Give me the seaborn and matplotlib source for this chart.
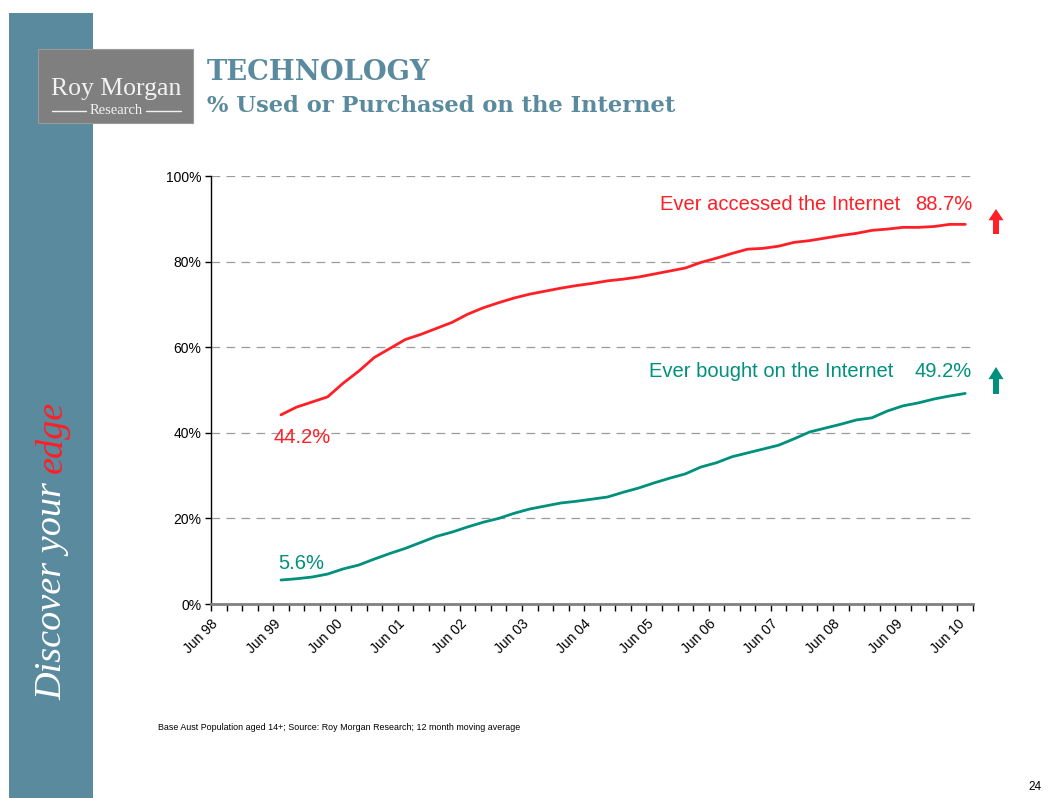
import numpy as np
import pandas as pd
import matplotlib
matplotlib.use("Agg")
import matplotlib.pyplot as plt
import seaborn as sns
from matplotlib.patches import Rectangle, FancyArrow

# ---- data: 12 month moving average, % of Australians 14+ (quarterly points) ----
year_labels = ["Jun 98", "Jun 99", "Jun 00", "Jun 01", "Jun 02", "Jun 03", "Jun 04",
               "Jun 05", "Jun 06", "Jun 07", "Jun 08", "Jun 09", "Jun 10"]
first_quarter = 4          # first reading sits in the 5th quarter slot after Jun 98
ever_accessed = [44.2, 46.0, 47.2, 48.4, 51.6, 54.4, 57.6, 59.7, 61.8, 63.0,
                 64.4, 65.8, 67.7, 69.2, 70.4, 71.5, 72.4, 73.1, 73.8, 74.4,
                 74.9, 75.5, 75.9, 76.4, 77.1, 77.8, 78.5, 79.8, 80.8, 81.9,
                 82.9, 83.1, 83.6, 84.5, 84.9, 85.5, 86.1, 86.6, 87.3, 87.6,
                 88.0, 88.0, 88.2, 88.7, 88.7]
ever_bought = [5.6, 5.9, 6.3, 7.0, 8.2, 9.1, 10.5, 11.8, 13.0, 14.4,
               15.8, 16.8, 18.0, 19.1, 20.0, 21.2, 22.2, 22.9, 23.6, 24.0,
               24.5, 25.0, 26.1, 27.1, 28.3, 29.4, 30.4, 32.0, 33.0, 34.4,
               35.3, 36.2, 37.1, 38.6, 40.2, 41.1, 42.0, 43.0, 43.5, 45.1,
               46.3, 47.0, 47.9, 48.6, 49.2]
series_names = ["Ever accessed the Internet", "Ever bought on the Internet"]
y_ticks = [0, 20, 40, 60, 80, 100]

RED = "#FF1F26"
GREEN = "#00907C"
TEAL = "#5A8A9E"

n = len(ever_accessed)
quarter_pos = np.arange(first_quarter, first_quarter + n) + 0.5
df = pd.DataFrame({
    "quarter": np.concatenate([quarter_pos, quarter_pos]),
    "pct": ever_accessed + ever_bought,
    "series": [series_names[0]] * n + [series_names[1]] * n,
})

sns.set_theme(style="white")
plt.rcParams["font.family"] = ["Liberation Sans", "DejaVu Sans"]

W, H = 1056, 798
fig = plt.figure(figsize=(W / 100, H / 100), dpi=100)
fig.patch.set_facecolor("white")


def fx(px):
    return px / W


def fy(py):
    return 1 - py / H


# ---- left band with slogan ----
fig.patches.append(Rectangle((fx(9), 0), fx(93) - fx(9), fy(13), transform=fig.transFigure,
                             facecolor=TEAL, edgecolor="none", zorder=0))
t1 = fig.text(fx(52), fy(700), "Discover your", rotation=90, ha="center", va="bottom",
              color="white", fontsize=27.5, family="Liberation Serif", style="italic")
fig.canvas.draw()
bb = t1.get_window_extent()
fig.text(fx(52), (bb.y1 + 9) / H, "edge", rotation=90, ha="center", va="bottom",
         color=RED, fontsize=27.5, family="Liberation Serif", style="italic")

# ---- logo box ----
fig.patches.append(Rectangle((fx(38), fy(123)), fx(193) - fx(38), fy(49) - fy(123),
                             transform=fig.transFigure, facecolor="#7F7F7F",
                             edgecolor="#9A9A9A", linewidth=0.8, zorder=1))
fig.text(fx(116), fy(89), "Roy Morgan", ha="center", va="center", color="#F2F2F2",
         fontsize=18.5, family="Liberation Serif", zorder=2)
fig.text(fx(116), fy(111), "Research", ha="center", va="center", color="#F2F2F2",
         fontsize=10.5, family="Liberation Serif", zorder=2)
for xa, xb in [(52, 86), (146, 181)]:
    fig.add_artist(plt.Line2D([fx(xa), fx(xb)], [fy(111), fy(111)], color="#F2F2F2",
                              linewidth=1.0, transform=fig.transFigure, zorder=2))

# ---- headings ----
fig.text(fx(207), fy(73), "TECHNOLOGY", ha="left", va="center", color=TEAL,
         fontsize=19.7, fontweight="bold", family="DejaVu Serif")
fig.text(fx(207), fy(106), "% Used or Purchased on the Internet", ha="left", va="center",
         color=TEAL, fontsize=16.3, fontweight="bold", family="DejaVu Serif")

# ---- chart ----
ax = fig.add_axes([fx(211), fy(604), fx(973) - fx(211), fy(176) - fy(604)])
ax.set_facecolor("white")
sns.lineplot(data=df, x="quarter", y="pct", hue="series", palette=[RED, GREEN],
             linewidth=2.0, legend=False, ax=ax)

ax.set_xlim(0, 49)
ax.set_ylim(0, 100)
ax.set_xlabel("")
ax.set_ylabel("")

ax.set_yticks(y_ticks)
ax.set_yticklabels([f"{v}%" for v in y_ticks], fontsize=10, color="black")
for v in y_ticks[1:]:
    ax.axhline(v, color="#9C9C9C", linewidth=0.9, linestyle=(0, (7, 5)), zorder=0.5)

ax.set_xticks(np.arange(0, 50), minor=True)
ax.set_xticks(np.arange(0, 49, 4))
ax.set_xticklabels(year_labels, rotation=45, ha="right", rotation_mode="anchor",
                   fontsize=10, color="black")
ax.tick_params(axis="x", which="both", direction="out", length=5, width=1,
               color="black", pad=4, bottom=True)
ax.tick_params(axis="y", direction="out", length=4, width=1, color="black", pad=3, left=True)

for side in ["top", "right"]:
    ax.spines[side].set_visible(False)
ax.spines["left"].set_color("black")
ax.spines["left"].set_linewidth(1.0)
ax.spines["bottom"].set_color("#808080")
ax.spines["bottom"].set_linewidth(2.0)

# value and series labels
ax.text(4.05, 38.8, f"{ever_accessed[0]:.1f}%", ha="left", va="center",
        color=RED, fontsize=14.5)
ax.text(4.35, 9.4, f"{ever_bought[0]:.1f}%", ha="left", va="center",
        color=GREEN, fontsize=14.5)
ax.text(48.94, 93.3, f"{ever_accessed[-1]:.1f}%", ha="right", va="center",
        color=RED, fontsize=14.5)
ax.text(48.94, 54.4, f"{ever_bought[-1]:.1f}%", ha="right", va="center",
        color=GREEN, fontsize=14.5)
ax.text(44.3, 93.3, series_names[0], ha="right", va="center", color=RED, fontsize=14.5)
ax.text(43.86, 54.4, series_names[1], ha="right", va="center", color=GREEN, fontsize=14.5)

# trend arrows
for color, y_lo, y_hi in [(RED, 234, 209), (GREEN, 394, 367)]:
    fig.add_artist(FancyArrow(
        fx(996), fy(y_lo), 0, fy(y_hi) - fy(y_lo), width=fx(6), head_width=fx(15),
        head_length=(fy(y_hi) - fy(y_lo)) * 0.45, length_includes_head=True,
        transform=fig.transFigure, color=color, linewidth=0))

# footnote and page number
fig.text(fx(158), fy(728), "Base Aust Population aged 14+; Source: Roy Morgan Research; "
         "12 month moving average", ha="left", va="center", fontsize=6.4, color="black")
fig.text(fx(1042), fy(787), "24", ha="right", va="center", fontsize=8.5, color="black")

fig.savefig("out.png", dpi=100, facecolor="white")
